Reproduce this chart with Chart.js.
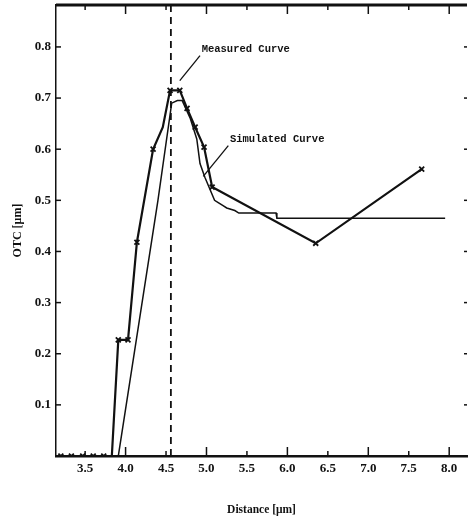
<!DOCTYPE html>
<html>
<head>
<meta charset="utf-8">
<script src="https://cdn.jsdelivr.net/npm/chart.js@4/dist/chart.umd.min.js"></script>
<style>
  html, body { margin: 0; padding: 0; background: #fff; overflow: hidden; }
  #wrap { width: 468px; height: 517px; }
</style>
</head>
<body>
<div id="wrap"><canvas id="otcChart"></canvas></div>
<script>
// Measured curve (x markers)
const measuredX = [3.2, 3.33, 3.47, 3.6, 3.73, 3.83, 3.91, 4.03, 4.14, 4.34, 4.46, 4.55, 4.67, 4.76, 4.86, 4.97, 5.07, 6.35, 7.66];
const measuredY = [0, 0, 0, 0, 0, 0, 0.227, 0.227, 0.418, 0.600, 0.643, 0.715, 0.715, 0.680, 0.643, 0.604, 0.526, 0.416, 0.561];
const measuredMark = [1, 1, 1, 1, 1, 0, 1, 1, 1, 1, 0, 1, 1, 1, 1, 1, 1, 1, 1];

// Simulated curve
const simulatedX = [3.91, 4.40, 4.57, 4.64, 4.70, 4.80, 4.88, 4.92, 4.98, 5.10, 5.15, 5.20, 5.25, 5.35, 5.40, 5.86, 5.87, 7.95];
const simulatedY = [0, 0.500, 0.690, 0.695, 0.695, 0.660, 0.620, 0.572, 0.545, 0.500, 0.495, 0.490, 0.485, 0.480, 0.475, 0.475, 0.465, 0.465];

// vertical dashed marker line
const markerLineX = [4.56, 4.56];
const markerLineY = [0, 0.882];

const xTicks = [3.5, 4.0, 4.5, 5.0, 5.5, 6.0, 6.5, 7.0, 7.5, 8.0];
const yTicks = [0.1, 0.2, 0.3, 0.4, 0.5, 0.6, 0.7, 0.8];

// text callouts: label anchor, arrow start, arrow end (data units)
const callouts = [
    { text: "Measured Curve", at: [4.94, 0.795], from: [4.92, 0.783], to: [4.67, 0.734] },
    { text: "Simulated Curve", at: [5.29, 0.619], from: [5.27, 0.607], to: [4.96, 0.547] }
];

const ink = "#111";
const toPts = (xs, ys) => xs.map((x, i) => ({ x: x, y: ys[i] }));

// inward ticks, top border and callouts
const framePlugin = {
    id: "frame",
    afterDatasetsDraw(c) {
        const ctx = c.ctx, xs = c.scales.x, ys = c.scales.y, a = c.chartArea;
        ctx.save();
        ctx.strokeStyle = ink;
        // top border
        ctx.lineWidth = 3;
        ctx.beginPath(); ctx.moveTo(a.left, a.top); ctx.lineTo(a.right, a.top); ctx.stroke();
        ctx.lineWidth = 1.5;
        xTicks.forEach(v => {
            const px = xs.getPixelForValue(v);
            const len = Number.isInteger(v) ? 9 : 5;
            ctx.beginPath(); ctx.moveTo(px, a.top); ctx.lineTo(px, a.top + len); ctx.stroke();
            ctx.beginPath(); ctx.moveTo(px, a.bottom); ctx.lineTo(px, a.bottom - len); ctx.stroke();
        });
        yTicks.forEach(v => {
            const py = ys.getPixelForValue(v);
            ctx.beginPath(); ctx.moveTo(a.left, py); ctx.lineTo(a.left + 5, py); ctx.stroke();
            ctx.beginPath(); ctx.moveTo(a.right, py); ctx.lineTo(a.right - 3, py); ctx.stroke();
        });
        // callouts
        ctx.fillStyle = ink;
        ctx.font = "bold 10.5px 'Liberation Mono', monospace";
        ctx.textBaseline = "middle";
        callouts.forEach(o => {
            ctx.fillText(o.text, xs.getPixelForValue(o.at[0]), ys.getPixelForValue(o.at[1]));
            ctx.lineWidth = 1.3;
            ctx.beginPath();
            ctx.moveTo(xs.getPixelForValue(o.from[0]), ys.getPixelForValue(o.from[1]));
            ctx.lineTo(xs.getPixelForValue(o.to[0]), ys.getPixelForValue(o.to[1]));
            ctx.stroke();
        });
        ctx.restore();
    }
};

const tickFont = { family: "'Liberation Serif', serif", size: 13, weight: "bold" };

new Chart(document.getElementById("otcChart"), {
    type: "scatter",
    data: {
        datasets: [
            {
                data: toPts(markerLineX, markerLineY),
                showLine: true, borderColor: ink, borderWidth: 1.8, borderDash: [7, 5],
                pointRadius: 0
            },
            {
                data: toPts(simulatedX, simulatedY),
                showLine: true, borderColor: ink, borderWidth: 1.5,
                pointRadius: 0
            },
            {
                data: toPts(measuredX, measuredY),
                showLine: true, borderColor: ink, borderWidth: 2.2,
                pointStyle: "crossRot", pointRadius: measuredMark.map(m => m ? 3.5 : 0),
                pointBorderColor: ink, pointBorderWidth: 1.8
            }
        ]
    },
    options: {
        responsive: true,
        maintainAspectRatio: false,
        animation: false,
        layout: { autoPadding: false, padding: { top: 5, right: 1, left: 0, bottom: 0 } },
        plugins: { legend: { display: false }, tooltip: { enabled: false } },
        scales: {
            x: {
                type: "linear", min: 3.14, max: 8.22,
                afterBuildTicks: s => { s.ticks = xTicks.map(v => ({ value: v })); },
                afterFit: s => { s.height = 61; s.paddingLeft = 0; s.paddingRight = 0; },
                grid: { display: false, drawTicks: false },
                border: { display: true, color: ink, width: 2.5 },
                ticks: { color: ink, font: tickFont, padding: 5, maxRotation: 0, callback: v => v.toFixed(1) },
                title: {
                    display: true, text: "Distance [μm]", color: ink,
                    font: { family: "'Liberation Serif', serif", size: 11.5, weight: "bold" },
                    padding: { top: 14, bottom: 0 }
                }
            },
            y: {
                type: "linear", min: 0, max: 0.882,
                afterBuildTicks: s => { s.ticks = yTicks.map(v => ({ value: v })); },
                afterFit: s => { s.width = 56; s.paddingTop = 0; s.paddingBottom = 0; },
                grid: { display: false, drawTicks: false },
                border: { display: true, color: ink, width: 1.5 },
                ticks: { color: ink, font: tickFont, padding: 5, callback: v => v.toFixed(1) },
                title: {
                    display: true, text: "OTC [μm]", color: ink,
                    font: { family: "'Liberation Serif', serif", size: 12, weight: "bold" },
                    padding: { top: 11, bottom: 0 }
                }
            }
        }
    },
    plugins: [framePlugin]
});
</script>
</body>
</html>
